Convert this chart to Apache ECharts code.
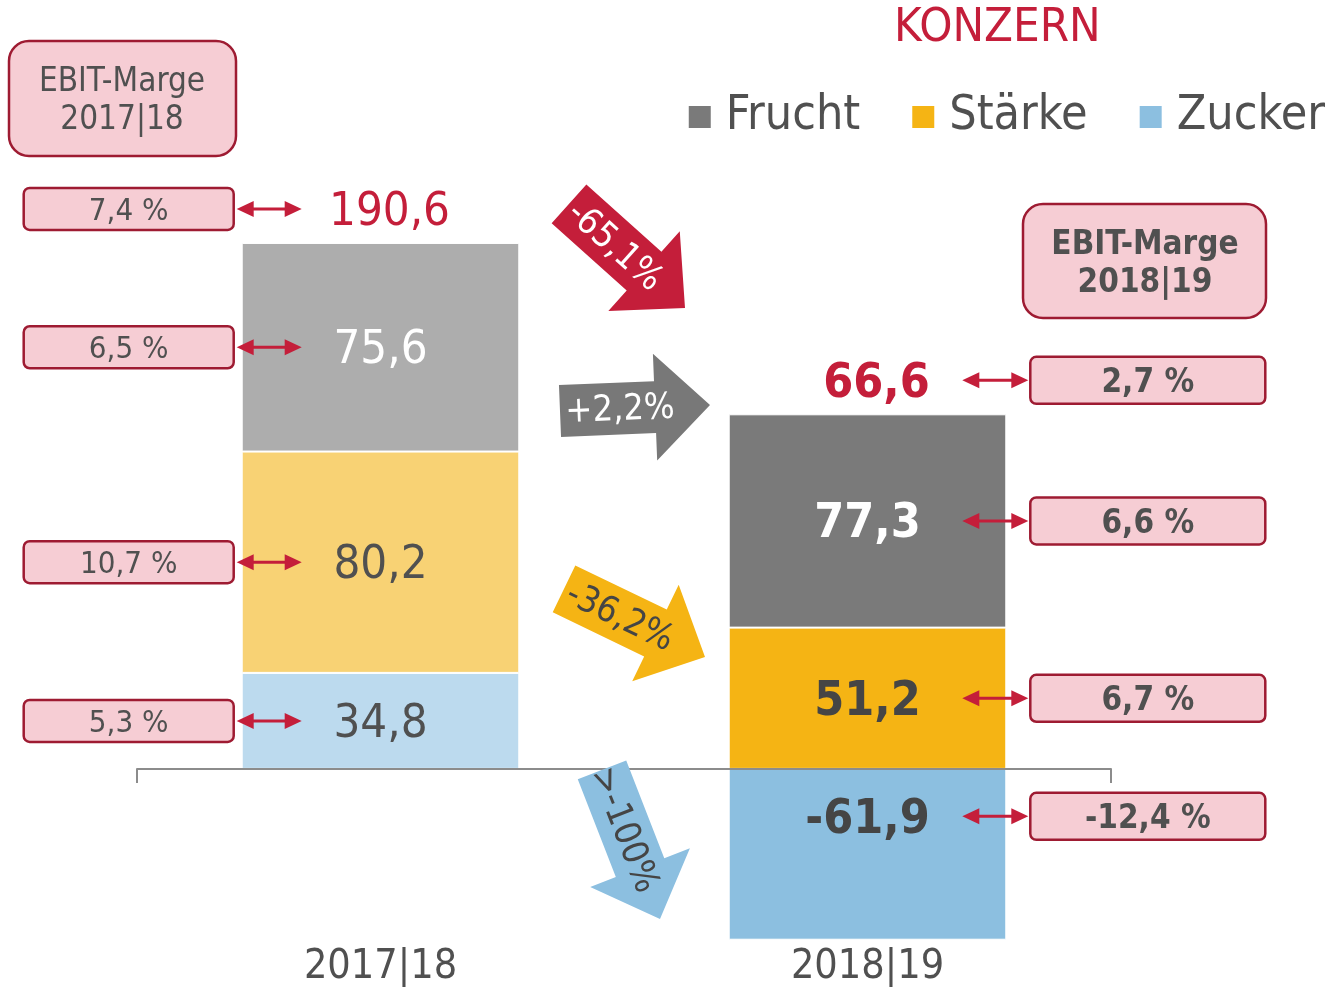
<!DOCTYPE html>
<html>
<head>
<meta charset="utf-8">
<title>EBIT Konzern</title>
<script src="https://cdn.jsdelivr.net/npm/echarts@6/dist/echarts.min.js"></script>
<style>
  html, body { margin: 0; padding: 0; background: #fff; }
  #chart { width: 1331px; height: 987px; }
</style>
</head>
<body>
<div id="chart"></div>
<script>
const FONT = "'DejaVu Sans Condensed', 'DejaVu Sans', sans-serif";
const RED = '#C41E3A';
const BOX_FILL = '#F6CDD4';
const BOX_LINE = '#9E1B32';
const TXT = '#505050';
const DARK_TXT = '#454545';

// data (Mio. EUR)
const categories = ['2017|18', '2018|19'];
const zucker = [34.8, -61.9];
const staerke = [80.2, 51.2];
const frucht = [75.6, 77.3];
const totals = [190.6, 66.6];
// EBIT-Marge in %
const margeTotal = [7.4, 2.7];
const margeFrucht = [6.5, 6.6];
const margeStaerke = [10.7, 6.7];
const margeZucker = [5.3, -12.4];
// Veraenderung: Konzern, Frucht, Staerke, Zucker
const changes = ['-65,1%', '+2,2%', '-36,2%', '>-100%'];

const colFrucht = ['#ADADAD', '#7A7A7A'];
const colStaerke = ['#F8D274', '#F5B414'];
const colZucker = ['#BCDAEE', '#8CBFE0'];

const BAR_RATIO = 0.57;
const NEG_LABEL_SHIFT = -38;
const TOTAL_GAP = 34;
const GLYPH_DY = 4; // digits sit a little high in the em box

const fmt = v => v.toFixed(1).replace('.', ',');

function barSeries(name, values, colors, labelColors) {
  return {
    name: name,
    type: 'bar',
    stack: 'ebit',
    barWidth: (BAR_RATIO * 100) + '%',
    itemStyle: { color: colors[1], borderColor: '#fff', borderWidth: 1 },
    label: {
      show: true,
      position: 'inside',
      fontFamily: FONT,
      formatter: p => fmt(p.value)
    },
    data: values.map((v, i) => ({
      value: v,
      itemStyle: { color: colors[i] },
      label: {
        color: labelColors[i],
        fontSize: i === 1 ? 48 : 47,
        fontWeight: i === 1 ? 'bold' : 'normal',
        offset: [0, (v < 0 ? NEG_LABEL_SHIFT : 0) + GLYPH_DY]
      }
    }))
  };
}

// pixel centre of each stacked segment, plus top of the positive stack
function stackLevels(api, cat) {
  const vals = [zucker[cat], staerke[cat], frucht[cat]];
  let pos = 0, neg = 0;
  const centers = [];
  vals.forEach(v => {
    let c;
    if (v >= 0) { c = pos + v / 2; pos += v; } else { c = neg + v / 2; neg += v; }
    centers.push(api.coord([cat, c])[1] + (v < 0 ? NEG_LABEL_SHIFT : 0));
  });
  return { centers: centers, top: api.coord([cat, pos])[1] };
}

function doubleArrow(x1, x2, y) {
  const hl = 17, hw = 8;
  return [
    { type: 'line', shape: { x1: x1 + hl - 2, y1: y, x2: x2 - hl + 2, y2: y }, style: { stroke: RED, lineWidth: 3 } },
    { type: 'polygon', shape: { points: [[x1, y], [x1 + hl, y - hw], [x1 + hl, y + hw]] }, style: { fill: RED } },
    { type: 'polygon', shape: { points: [[x2, y], [x2 - hl, y - hw], [x2 - hl, y + hw]] }, style: { fill: RED } }
  ];
}

function renderMargins(params, api) {
  const cat = api.value(0);
  const x = api.coord([cat, 0])[0];
  const half = api.size([1, 0])[0] * BAR_RATIO / 2;
  const lv = stackLevels(api, cat);
  const left = cat === 0;
  const rows = [
    [lv.top - TOTAL_GAP, margeTotal[cat]],
    [lv.centers[2], margeFrucht[cat]],
    [lv.centers[1], margeStaerke[cat]],
    [lv.centers[0], margeZucker[cat]]
  ];
  const children = [];
  rows.forEach(r => {
    const y = r[0];
    let bx, bw, bh, a1, a2;
    if (left) {
      bw = 210; bh = 42; bx = x - half - 8 - bw; a1 = x - half - 5; a2 = x - half + 60;
    } else {
      bw = 235; bh = 47; bx = x + half + 24; a1 = x + half - 44; a2 = x + half + 22;
    }
    children.push({
      type: 'rect',
      shape: { x: bx, y: y - bh / 2, width: bw, height: bh, r: 6 },
      style: { fill: BOX_FILL, stroke: BOX_LINE, lineWidth: 2.5 }
    });
    children.push({
      type: 'text',
      style: {
        text: fmt(r[1]) + ' %', x: bx + bw / 2, y: y + 3,
        align: 'center', verticalAlign: 'middle',
        fontSize: left ? 31 : 33, fontFamily: FONT, fontWeight: left ? 'normal' : 'bold', fill: TXT
      }
    });
    doubleArrow(a1, a2, y).forEach(el => children.push(el));
  });
  children.push({
    type: 'text',
    style: {
      text: fmt(totals[cat]), x: x + 9, y: lv.top - TOTAL_GAP + GLYPH_DY,
      align: 'center', verticalAlign: 'middle',
      fontSize: left ? 47 : 48, fontFamily: FONT, fontWeight: left ? 'normal' : 'bold', fill: RED
    }
  });
  return { type: 'group', children: children };
}

// change arrows between the bars, offsets from (bar midpoint, zero line)
const arrowLayout = [
  { color: RED, text: '#fff', tail: [-55, -565], tip: [61, -461] },
  { color: '#787878', text: '#fff', tail: [-64, -358], tip: [86, -364] },
  { color: '#F5B414', text: DARK_TXT, tail: [-60, -180], tip: [81, -112] },
  { color: '#8CBFE0', text: DARK_TXT, tail: [-22, 1], tip: [36, 150] }
];

function renderChange(params, api) {
  const i = params.dataIndex;
  const lay = arrowLayout[i];
  const mx = (api.coord([0, 0])[0] + api.coord([1, 0])[0]) / 2;
  const y0 = api.coord([0, 0])[1];
  const T = [mx + lay.tail[0], y0 + lay.tail[1]];
  const P = [mx + lay.tip[0], y0 + lay.tip[1]];
  const dx = P[0] - T[0], dy = P[1] - T[1];
  const L = Math.sqrt(dx * dx + dy * dy);
  const u = [dx / L, dy / L];
  const n = [-u[1], u[0]];
  const bw = 52, hw = 107, hl = 55;
  const B = [P[0] - u[0] * hl, P[1] - u[1] * hl];
  const pt = (o, s) => [o[0] + n[0] * s, o[1] + n[1] * s];
  const points = [pt(T, bw / 2), pt(B, bw / 2), pt(B, hw / 2), P, pt(B, -hw / 2), pt(B, -bw / 2), pt(T, -bw / 2)];
  const tc = [T[0] + u[0] * L * 0.4, T[1] + u[1] * L * 0.4];
  return {
    type: 'group',
    children: [
      { type: 'polygon', shape: { points: points }, style: { fill: lay.color } },
      {
        type: 'text', x: tc[0], y: tc[1], rotation: -Math.atan2(dy, dx),
        style: {
          text: changes[i], x: 0, y: 2, align: 'center', verticalAlign: 'middle',
          fontSize: 36, fontFamily: FONT, fill: lay.text
        }
      }
    ]
  };
}

const chart = echarts.init(document.getElementById('chart'));

const option = {
  animation: false,
  backgroundColor: '#fff',
  title: {
    text: 'KONZERN', left: 889, top: 0,
    textStyle: { fontSize: 47, color: RED, fontWeight: 'normal', fontFamily: FONT }
  },
  legend: {
    right: 1, top: 88,
    icon: 'rect', itemWidth: 24, itemHeight: 24, itemGap: 50,
    textStyle: { fontSize: 48, color: TXT, fontFamily: FONT, padding: [0, 0, 0, 9] },
    data: ['Frucht', 'Stärke', 'Zucker']
  },
  grid: { left: 137, right: 220, top: 217, bottom: 47, outerBoundsMode: 'none' },
  xAxis: [
    {
      type: 'category', data: categories, position: 'top', z: 3,
      axisLine: { onZero: true, lineStyle: { color: '#8C8C8C', width: 2 } },
      axisTick: { show: true, inside: true, length: 14, interval: i => i === 0, lineStyle: { color: '#8C8C8C', width: 2 } },
      axisLabel: { show: false },
      splitLine: { show: false }
    },
    {
      type: 'category', data: categories, position: 'bottom',
      axisLine: { show: false }, axisTick: { show: false },
      axisLabel: { margin: 7, fontSize: 41, color: TXT, fontFamily: FONT },
      splitLine: { show: false }
    }
  ],
  yAxis: { type: 'value', min: -62, max: 200, show: false },
  graphic: [
    {
      type: 'rect', shape: { x: 9, y: 41, width: 227, height: 115, r: 20 },
      style: { fill: BOX_FILL, stroke: BOX_LINE, lineWidth: 2.5 }
    },
    {
      type: 'text', x: 122, y: 101,
      style: {
        text: 'EBIT-Marge\n2017|18', align: 'center', verticalAlign: 'middle',
        fontSize: 33, lineHeight: 38, fontFamily: FONT, fill: TXT
      }
    },
    {
      type: 'rect', shape: { x: 1023, y: 204, width: 243, height: 114, r: 20 },
      style: { fill: BOX_FILL, stroke: BOX_LINE, lineWidth: 2.5 }
    },
    {
      type: 'text', x: 1145, y: 264,
      style: {
        text: 'EBIT-Marge\n2018|19', align: 'center', verticalAlign: 'middle',
        fontSize: 33, lineHeight: 38, fontWeight: 'bold', fontFamily: FONT, fill: TXT
      }
    }
  ],
  series: [
    barSeries('Zucker', zucker, colZucker, [TXT, DARK_TXT]),
    barSeries('Stärke', staerke, colStaerke, [TXT, DARK_TXT]),
    barSeries('Frucht', frucht, colFrucht, ['#fff', '#fff']),
    {
      name: 'Marge', type: 'custom', coordinateSystem: 'cartesian2d',
      clip: false, silent: true, z: 5,
      encode: { x: 0, y: 1 },
      data: categories.map((c, i) => [i, 0]),
      renderItem: renderMargins
    },
    {
      name: 'Veränderung', type: 'custom', coordinateSystem: 'cartesian2d',
      clip: false, silent: true, z: 4,
      encode: { x: 0, y: 1 },
      data: changes.map(() => [0, 0]),
      renderItem: renderChange
    }
  ]
};

chart.setOption(option);
</script>
</body>
</html>
